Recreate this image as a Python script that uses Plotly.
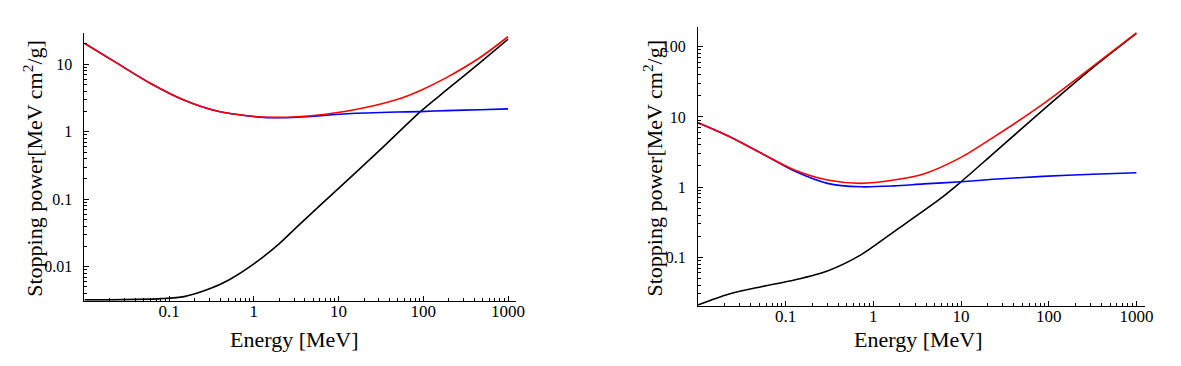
import math
import plotly.graph_objects as go

# ---------------- data ----------------
# Left panel
left_e_total = [0.01, 0.0245, 0.0605, 0.149, 0.366, 0.9, 1.41, 3.3, 12.8, 49, 92.5, 190, 468, 1000]
left_total = [20.5, 10.3, 5.2, 2.96, 2.03, 1.71, 1.64, 1.67, 2.03, 3.0, 4.1, 6.4, 12.6, 25.6]
left_e_coll = [0.01, 0.0245, 0.0605, 0.149, 0.366, 0.9, 1.41, 3.3, 12.8, 49, 92.5, 190, 468, 1000]
left_coll = [20.5, 10.3, 5.2, 2.96, 2.03, 1.70, 1.62, 1.64, 1.85, 1.96, 1.99, 2.06, 2.12, 2.18]
left_e_rad = [0.01, 0.03, 0.08, 0.15, 0.3, 0.5, 1, 2, 3.3, 10, 30, 92.5, 190, 468, 1000]
left_rad = [0.00322, 0.00325, 0.00336, 0.0036, 0.0047, 0.0063, 0.011, 0.022, 0.040, 0.145, 0.52, 1.99, 4.2, 10.6, 23.5]

# Right panel
right_e_total = [0.01, 0.0222, 0.053, 0.126, 0.30, 0.72, 1.71, 3.75, 10, 23.3, 85.7, 316, 1000]
right_total = [8.26, 5.35, 3.03, 1.75, 1.26, 1.13, 1.26, 1.54, 2.65, 5.1, 15.2, 52, 158]
right_e_coll = [0.01, 0.0222, 0.053, 0.126, 0.30, 0.72, 1.71, 3.75, 10, 23.3, 85.7, 316, 1000]
right_coll = [8.26, 5.35, 3.03, 1.69, 1.13, 1.01, 1.04, 1.11, 1.19, 1.29, 1.42, 1.52, 1.60]
right_e_rad = [0.01, 0.0222, 0.053, 0.126, 0.30, 0.72, 1.71, 5.55, 10, 23.3, 85.7, 316, 1000]
right_rad = [0.0209, 0.0297, 0.0381, 0.0475, 0.0638, 0.108, 0.23, 0.655, 1.19, 3.0, 12.5, 50, 155]

x_tickvals = [0.1, 1, 10, 100, 1000]
x_ticktext = ["0.1", "1", "10", "100", "1000"]
left_y_tickvals = [0.01, 0.1, 1, 10]
left_y_ticktext = ["0.01", "0.1", "1", "10"]
right_y_tickvals = [0.1, 1, 10, 100]
right_y_ticktext = ["0.1", "1", "10", "100"]

x_title = "Energy [MeV]"
y_title = "Stopping power[MeV cm<sup>2</sup>/g]"

# ---------------- figure ----------------
W, H = 1181, 366
FONT = "Liberation Serif, Times New Roman, serif"

def minor_vals(lo_exp, hi_exp):
    return [k * 10.0 ** d for d in range(lo_exp, hi_exp + 1) for k in range(2, 10)]

fig = go.Figure()

def add_panel(xa, ya, e_rad, rad, e_coll, coll, e_tot, tot):
    style = dict(width=1.6, shape="spline", smoothing=0.8)
    fig.add_trace(go.Scatter(x=e_rad, y=rad, mode="lines", xaxis=xa, yaxis=ya,
                             line=dict(color="black", **style)))
    fig.add_trace(go.Scatter(x=e_coll, y=coll, mode="lines", xaxis=xa, yaxis=ya,
                             line=dict(color="#0000ff", **style)))
    fig.add_trace(go.Scatter(x=e_tot, y=tot, mode="lines", xaxis=xa, yaxis=ya,
                             line=dict(color="#ff0000", **style)))

add_panel("x", "y", left_e_rad, left_rad, left_e_coll, left_coll, left_e_total, left_total)
add_panel("x2", "y2", right_e_rad, right_rad, right_e_coll, right_coll, right_e_total, right_total)

axis_common = dict(type="log", showline=True, linecolor="black", linewidth=1, showgrid=False,
                   zeroline=False, ticks="inside", ticklen=5, tickwidth=1, tickcolor="black")
xfont = dict(family=FONT, size=17, color="black")
yfont = dict(family=FONT, size=16, color="black")

fig.update_layout(
    width=W, height=H, margin=dict(l=0, r=0, t=0, b=0),
    paper_bgcolor="white", plot_bgcolor="white", showlegend=False,
    xaxis=dict(**axis_common, range=[-2, 3.1], domain=[85 / W, 520 / W], anchor="y",
               tickvals=x_tickvals, ticktext=x_ticktext, ticklabelstandoff=-5, tickfont=xfont,
               minor=dict(tickvals=minor_vals(-2, 3), ticks="inside", ticklen=3, tickcolor="black")),
    yaxis=dict(**axis_common, range=[math.log10(0.00313), math.log10(29.4)],
               domain=[1 - 300.7 / H, 1 - 32.7 / H], anchor="x",
               tickvals=left_y_tickvals, ticktext=left_y_ticktext, ticklabelstandoff=8, tickfont=yfont,
               minor=dict(tickvals=minor_vals(-3, 1), ticks="inside", ticklen=3, tickcolor="black")),
    xaxis2=dict(**axis_common, range=[-2, 3.1], domain=[702.7 / W, 1153 / W], anchor="y2",
                tickvals=x_tickvals, ticktext=x_ticktext, ticklabelstandoff=-5, tickfont=xfont,
                minor=dict(tickvals=minor_vals(-2, 3), ticks="inside", ticklen=3, tickcolor="black")),
    yaxis2=dict(**axis_common, range=[math.log10(0.0204), math.log10(193)],
                domain=[1 - 305.7 / H, 1 - 26.7 / H], anchor="x2",
                tickvals=right_y_tickvals, ticktext=right_y_ticktext, ticklabelstandoff=8, tickfont=yfont,
                minor=dict(tickvals=minor_vals(-2, 2), ticks="inside", ticklen=3, tickcolor="black")),
)

title_font = dict(family=FONT, size=22, color="black")
for xc, yc in [(297, 339), (925, 339)]:
    fig.add_annotation(text=x_title, xref="paper", yref="paper", x=xc / W, y=1 - yc / H,
                       xanchor="center", yanchor="middle", showarrow=False, font=title_font)
for xc, yc in [(33, 168), (657, 168)]:
    fig.add_annotation(text=y_title, xref="paper", yref="paper", x=xc / W, y=1 - yc / H,
                       xanchor="center", yanchor="middle", showarrow=False, textangle=-90,
                       font=title_font)

fig.write_html("out.html", config={"displayModeBar": False},
               post_script="document.body.style.margin='0';document.body.style.overflow='hidden';")
